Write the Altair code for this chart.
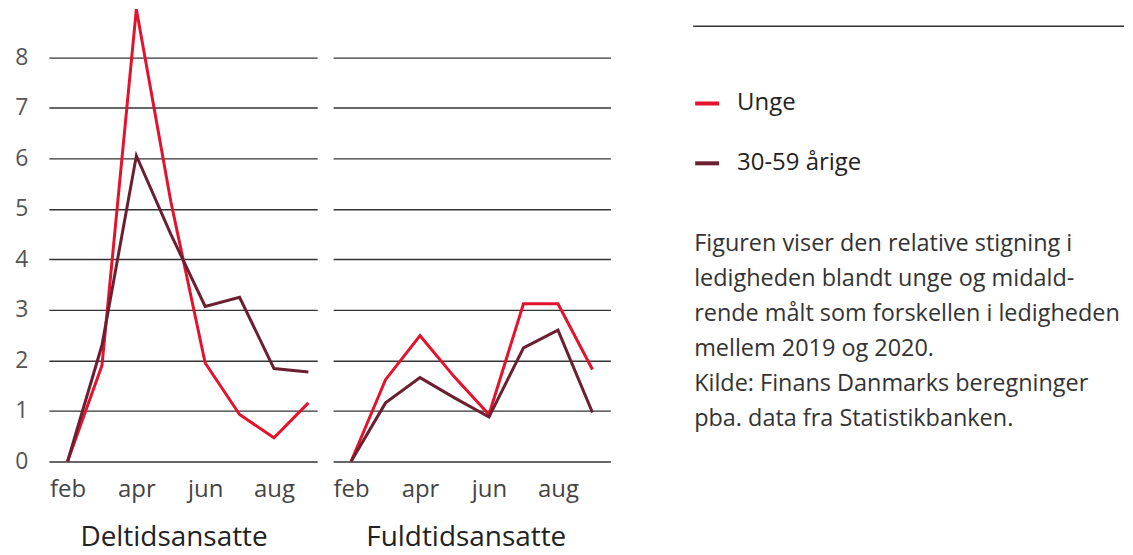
import altair as alt
import pandas as pd

# ---------------- data ----------------
months = ["feb", "mar", "apr", "maj", "jun", "jul", "aug", "sep"]
tick_months = ["feb", "apr", "jun", "aug"]
y_ticks = [0, 1, 2, 3, 4, 5, 6, 7, 8]
series_names = ["Unge", "30-59 årige"]
panel_titles = ["Deltidsansatte", "Fuldtidsansatte"]

deltid_unge = [0.0, 1.9, 8.95, 5.15, 1.95, 0.93, 0.47, 1.16]
deltid_midald = [0.0, 2.3, 6.05, 4.5, 3.07, 3.25, 1.84, 1.77]
fuldtid_unge = [0.0, 1.62, 2.49, 1.67, 0.93, 3.12, 3.12, 1.82]
fuldtid_midald = [0.0, 1.16, 1.66, 1.26, 0.88, 2.25, 2.6, 0.97]

note_lines = [
    "Figuren viser den relative stigning i",
    "ledigheden blandt unge og midald-",
    "rende målt som forskellen i ledigheden",
    "mellem 2019 og 2020.",
    "Kilde: Finans Danmarks beregninger",
    "pba. data fra Statistikbanken.",
]

# ---------------- style ----------------
RED = "#e3132d"
DARK = "#6b1f30"
FONT = "Open Sans"
GRID = "#333333"


def make_df(unge, midald):
    rows = []
    for m, v in zip(months, unge):
        rows.append({"month": m, "value": v, "series": series_names[0]})
    for m, v in zip(months, midald):
        rows.append({"month": m, "value": v, "series": series_names[1]})
    return pd.DataFrame(rows)


color_enc = alt.Color(
    "series:N",
    scale=alt.Scale(domain=series_names, range=[RED, DARK]),
    legend=alt.Legend(
        title=None,
        orient="none",
        legendX=646,
        legendY=79,
        symbolType="stroke",
        symbolStrokeWidth=4,
        symbolSize=576,
        labelFontSize=24,
        labelFont=FONT,
        labelColor="#222222",
        labelOffset=16,
        rowPadding=34,
    ),
)


def panel(df, title, show_labels, width, pad, align, title_x):
    return (
        alt.Chart(df)
        .mark_line(strokeWidth=3)
        .encode(
            x=alt.X(
                "month:N",
                sort=months,
                scale=alt.Scale(type="point", domain=months, padding=pad, align=align),
                axis=alt.Axis(
                    values=tick_months,
                    title=title,
                    labelAngle=0,
                    labelFontSize=24,
                    labelFont=FONT,
                    labelColor="#444444",
                    labelPadding=16,
                    ticks=False,
                    tickSize=0,
                    domain=False,
                    grid=False,
                    titleFontSize=28,
                    titleFont=FONT,
                    titleFontWeight="normal",
                    titleColor="#222222",
                    titlePadding=22,
                    titleX=title_x,
                ),
            ),
            y=alt.Y(
                "value:Q",
                scale=alt.Scale(domain=[0, 8.92], nice=False, zero=True),
                axis=alt.Axis(
                    values=y_ticks,
                    labels=show_labels,
                    title=None,
                    ticks=False,
                    tickSize=0,
                    domain=False,
                    grid=True,
                    gridColor=GRID,
                    gridWidth=1.4,
                    labelFontSize=23,
                    labelFont=FONT,
                    labelColor="#555555",
                    labelPadding=21,
                ),
            ),
            color=color_enc,
        )
        .properties(width=width, height=452)
    )


left = panel(make_df(deltid_unge, deltid_midald), panel_titles[0], True, 269, 0.399, 0.68, 125)
right = panel(make_df(fuldtid_unge, fuldtid_midald), panel_titles[1], False, 278, 0.52, 0.5, 133)

note_df = pd.DataFrame({"t": ["\n".join(note_lines)]})
rule_df = pd.DataFrame({"k": [0]})

rule = alt.Chart(rule_df).mark_rule(color=GRID, strokeWidth=1.4).encode(
    x=alt.value(0), x2=alt.value(432), y=alt.value(15.5)
)
note = alt.Chart(note_df).mark_text(
    align="left",
    baseline="alphabetic",
    lineBreak="\n",
    lineHeight=35,
    fontSize=23.5,
    font=FONT,
    color="#333333",
).encode(text="t:N", x=alt.value(1), y=alt.value(241))

side = alt.layer(rule, note).properties(width=430, height=452)

chart = (
    alt.hconcat(alt.hconcat(left, right, spacing=15), side, spacing=82)
    .properties(padding={"left": 6, "top": -6, "right": 0, "bottom": 3})
    .configure_view(stroke=None)
)

chart.save("out.html", embed_options={"renderer": "svg", "actions": False})
